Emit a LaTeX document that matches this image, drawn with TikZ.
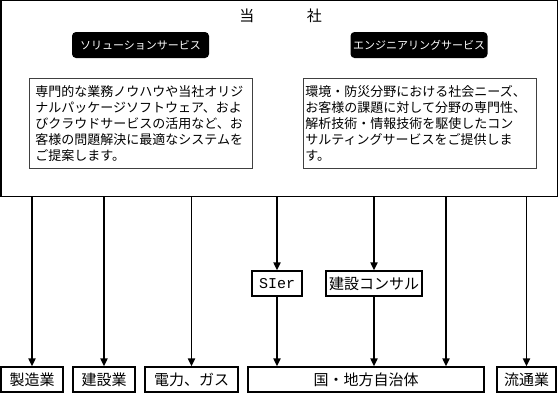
\documentclass[tikz,border=0pt]{standalone}
\usepackage{fontspec}
\setmainfont{Noto Sans CJK JP}
\newfontfamily\latinmono{Liberation Mono}
\usetikzlibrary{arrows.meta}
\begin{document}
\begin{tikzpicture}[x=1pt, y=-1pt,
    frame/.style={draw, line width=1.2pt, inner sep=0pt},
    pill/.style={fill=black, text=white, rounded corners=4pt, minimum width=137pt, minimum height=26pt, inner sep=0pt, font=\fontsize{11}{13}\selectfont},
    note/.style={draw=black!75, line width=0.8pt, anchor=north west, minimum height=90pt, align=left, inner ysep=0pt, font=\fontsize{13}{16}\selectfont},
    target/.style={draw, line width=1.2pt, minimum height=25pt, inner sep=2pt, font=\fontsize{15}{17}\selectfont},
    arr/.style={line width=1.8pt, -{Triangle[length=8pt, width=7pt]}}]
  \useasboundingbox (0,0) rectangle (559,394);
  % Company frame and its title
  \node[frame, minimum width=556.5pt, minimum height=196pt] (corp) at (279.2, 98.7) {};
  \node[font=\fontsize{15}{17}\selectfont] (title) at (280.5, 16) {当\hspace{3.5em}社};
  % Service headings
  \node[pill] (sol) at (140.5, 45) {ソリューションサービス};
  \node[pill] (eng) at (419, 45) {エンジニアリングサービス};
  % Service descriptions
  \node[note, text width=211pt, inner xsep=6pt] (soltext) at (29, 78)
    {専門的な業務ノウハウや当社オリジ\\ナルパッケージソフトウェア、およ\\びクラウドサービスの活用など、お\\客様の問題解決に最適なシステムを\\ご提案します。};
  \node[note, text width=229pt, inner xsep=2pt] (engtext) at (303, 78)
    {環境・防災分野における社会ニーズ、\\お客様の課題に対して分野の専門性、\\解析技術・情報技術を駆使したコン\\サルティングサービスをご提供しま\\す。};
  % Intermediaries
  \node[target, minimum width=50pt] (sier) at (277, 283.5) {\latinmono SIer};
  \node[target, minimum width=96pt] (cons) at (374, 283.5) {建設コンサル};
  % Customers
  \node[target, minimum width=62pt] (mfg) at (32, 379.5) {製造業};
  \node[target, minimum width=62pt] (build) at (104, 379.5) {建設業};
  \node[target, minimum width=93pt] (power) at (191.5, 379.5) {電力、ガス};
  \node[target, minimum width=236pt] (gov) at (366, 379.5) {国・地方自治体};
  \node[target, minimum width=59pt] (dist) at (526.5, 379.5) {流通業};
  \coordinate (direct) at (446, 0);
  % Arrows from the company
  \draw[arr] (corp.south -| mfg) -- (mfg);
  \draw[arr] (corp.south -| build) -- (build);
  \draw[arr] (corp.south -| power) -- (power);
  \draw[arr] (corp.south -| sier) -- (sier);
  \draw[arr] (sier) -- (gov.north -| sier);
  \draw[arr] (corp.south -| cons) -- (cons);
  \draw[arr] (cons) -- (gov.north -| cons);
  \draw[arr] (corp.south -| direct) -- (gov.north -| direct);
  \draw[arr] (corp.south -| dist) -- (dist);
\end{tikzpicture}
\end{document}
